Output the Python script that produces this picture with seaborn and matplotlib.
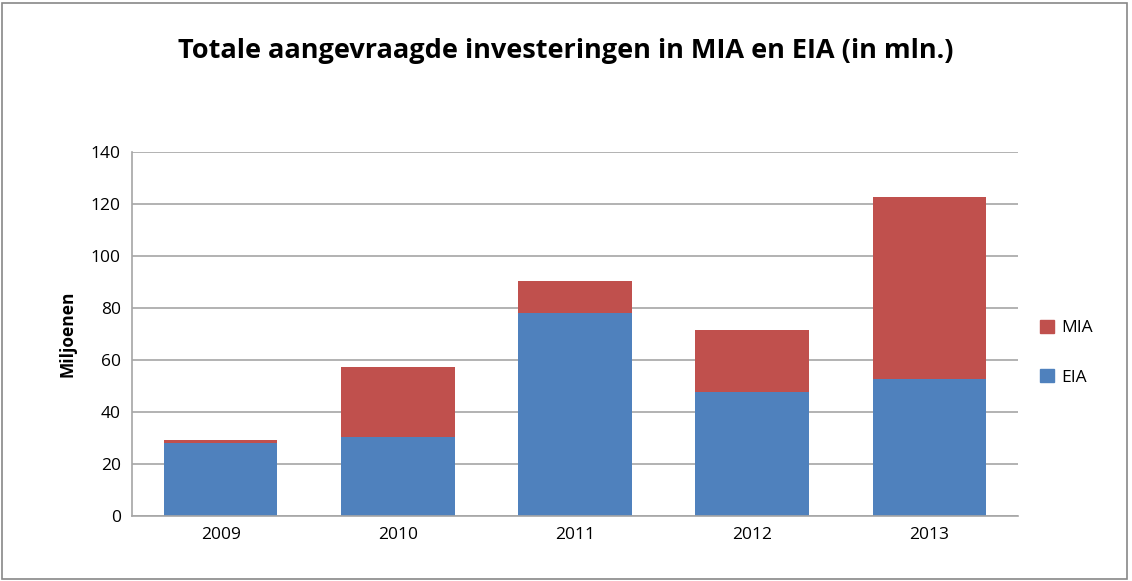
"""Stacked bars: requested investments in MIA and EIA per year."""

import matplotlib.pyplot as plt
import pandas as pd
import seaborn as sns
from matplotlib.patches import Patch, Rectangle

years = ["2009", "2010", "2011", "2012", "2013"]
eia = [28.2, 30.3, 78.1, 47.6, 52.6]
mia = [1.0, 27.1, 12.4, 23.9, 70.0]

EIA_COLOR = "#4F81BD"
MIA_COLOR = "#C0504D"

df = pd.DataFrame({"year": years, "EIA": eia, "MIA": mia})
df["total"] = df["EIA"] + df["MIA"]

sns.set_theme(style="white")
plt.rcParams["font.family"] = ["Open Sans", "DejaVu Sans"]
plt.rcParams["text.color"] = "black"
plt.rcParams["axes.labelcolor"] = "black"

fig = plt.figure(figsize=(11.32, 5.81), dpi=100)
ax = fig.add_axes([0.1166, 0.1119, 0.7827, 0.6265])

sns.barplot(data=df, x="year", y="total", color=MIA_COLOR, width=0.64,
            saturation=1, linewidth=0, ax=ax)
sns.barplot(data=df, x="year", y="EIA", color=EIA_COLOR, width=0.64,
            saturation=1, linewidth=0, ax=ax)

ax.set_ylim(0, 140)
ax.set_yticks(range(0, 141, 20))
ax.yaxis.grid(True, color="#A6A6A6", linewidth=1.2)
ax.set_axisbelow(True)
for side in ["top", "right"]:
    ax.spines[side].set_visible(False)
for side in ["left", "bottom"]:
    ax.spines[side].set_color("#A6A6A6")
    ax.spines[side].set_linewidth(1.2)
ax.tick_params(axis="both", labelsize=12.5, colors="black", length=0, pad=8)
ax.set_xlabel("")
ax.set_ylabel("Miljoenen", fontsize=12.5, fontweight="bold", labelpad=10)

handles = [Patch(color=MIA_COLOR, label="MIA"), Patch(color=EIA_COLOR, label="EIA")]
fig.legend(handles=handles, loc="center left", bbox_to_anchor=(0.905, 0.393),
           frameon=False, fontsize=12.5, handlelength=0.8, handleheight=0.8,
           handletextpad=0.4, labelspacing=1.9)

fig.text(0.5, 0.912, "Totale aangevraagde investeringen in MIA en EIA (in mln.)",
         ha="center", va="center", fontsize=19.5, fontweight="bold", color="black")

fig.patches.append(Rectangle((0.002, 0.004), 0.994, 0.99, transform=fig.transFigure,
                             fill=False, edgecolor="#888888", linewidth=1.2))

fig.savefig("out.png", dpi=100)
